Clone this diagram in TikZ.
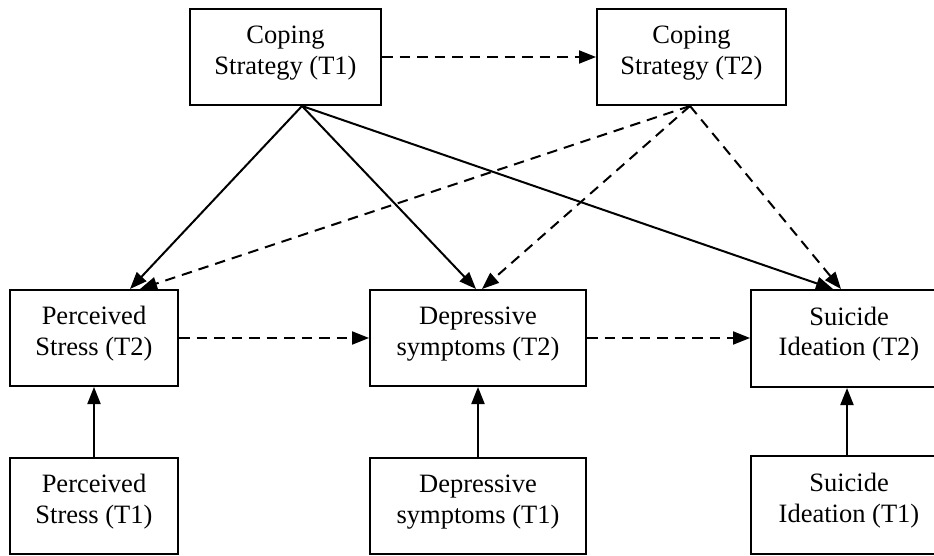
\documentclass[tikz,border=0pt]{standalone}
\usepackage{fontspec}
\setmainfont{Liberation Serif}
\usetikzlibrary{arrows.meta}
\newcommand\boxtext[2]{\raisebox{4pt}[\height][\depth]{\begin{tabular}{@{}c@{}}#1\\#2\end{tabular}}}
\begin{document}
\begin{tikzpicture}[x=1pt,y=-1pt,
  var/.style={draw, line width=2pt, inner sep=0pt, font=\fontsize{26.5}{30.5}\selectfont, minimum height=96pt},
  solidarrow/.style={line width=2pt, -{Triangle[length=17pt,width=13pt]}},
  dasharrow/.style={solidarrow, dash pattern=on 10.5pt off 7pt}]
\useasboundingbox (0,0) rectangle (934,556);
\fill[white] (0,0) rectangle (934,556);
\clip (0,0) rectangle (934,556);
% nodes
\node[var, minimum width=191pt] (c1) at (285.5,57) {\boxtext{Coping}{Strategy (T1)}};
\node[var, minimum width=189pt] (c2) at (691.5,57) {\boxtext{Coping}{Strategy (T2)}};
\node[var, minimum width=168pt] (ps2) at (94,338) {\boxtext{Perceived}{Stress (T2)}};
\node[var, minimum width=216pt] (dep2) at (478,338) {\boxtext{Depressive}{symptoms (T2)}};
\node[var, minimum width=196pt, minimum height=97pt] (si2) at (849,338.5) {\boxtext{Suicide}{Ideation (T2)}};
\node[var, minimum width=168pt] (ps1) at (94,506) {\boxtext{Perceived}{Stress (T1)}};
\node[var, minimum width=216pt] (dep1) at (478,506) {\boxtext{Depressive}{symptoms (T1)}};
\node[var, minimum width=196pt, minimum height=98pt] (si1) at (849,505) {\boxtext{Suicide}{Ideation (T1)}};
% connectors
\draw[dasharrow] (c1.east) -- (c2.west);
\draw[solidarrow] ([xshift=16.5pt]c1.south) -- ([xshift=36pt]ps2.north);
\draw[solidarrow] ([xshift=16.5pt]c1.south) -- ([xshift=-2pt]dep2.north);
\draw[solidarrow] ([xshift=16.5pt]c1.south) -- ([xshift=-16pt]si2.north);
\draw[dasharrow] ([xshift=-1.5pt]c2.south) -- ([xshift=46pt]ps2.north);
\draw[dasharrow] ([xshift=-1.5pt]c2.south) -- ([xshift=4pt]dep2.north);
\draw[dasharrow] ([xshift=-1.5pt]c2.south) -- ([xshift=-8pt]si2.north);
\draw[dasharrow] (ps2.east) -- (dep2.west);
\draw[dasharrow] (dep2.east) -- (dep2.east -| si2.west);
\draw[solidarrow] (ps1.north) -- (ps2.south);
\draw[solidarrow] (dep1.north) -- (dep2.south);
\draw[solidarrow] ([xshift=-2pt]si1.north) -- ([xshift=-2pt]si2.south);
\end{tikzpicture}
\end{document}
